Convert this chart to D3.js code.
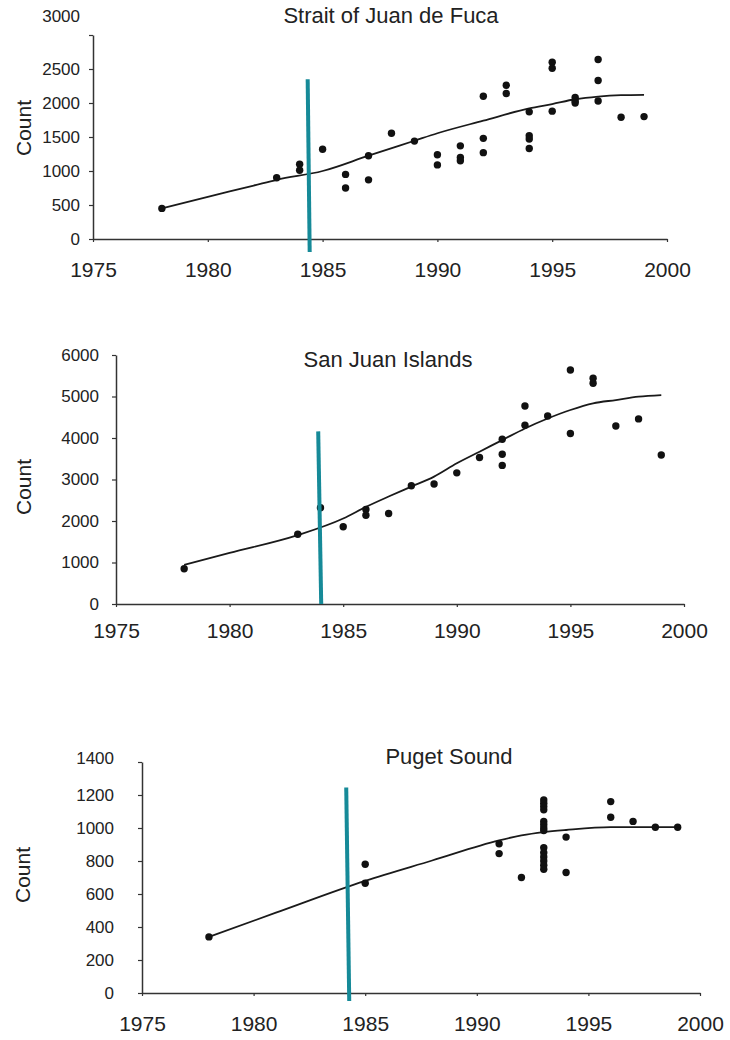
<!DOCTYPE html>
<html>
<head>
<meta charset="utf-8">
<script src="https://cdn.jsdelivr.net/npm/d3@7"></script>
<style>
  body { margin: 0; background: #fff; }
  svg { display: block; font-family: "Liberation Sans", Arial, sans-serif; }
  .domain { stroke: #333; stroke-width: 1.5; }
  .tick line { stroke: #333; stroke-width: 1.2; }
  .tick text { fill: #222; }
</style>
</head>
<body>
<svg id="chart" width="730" height="1040"></svg>
<script>
// shared x ticks
const yearTicks = [1975, 1980, 1985, 1990, 1995, 2000];

// Strait of Juan de Fuca
const fucaTicks = [0, 500, 1000, 1500, 2000, 2500, 3000];
const fucaYears = [1978, 1983, 1984, 1984, 1985, 1986, 1986, 1987, 1987, 1988, 1989,
  1990, 1990, 1991, 1991, 1991, 1992, 1992, 1992, 1993, 1993,
  1994, 1994, 1994, 1994, 1995, 1995, 1995, 1996, 1996, 1996,
  1997, 1997, 1997, 1998, 1999];
const fucaCounts = [450, 900, 1100, 1010, 1320, 950, 750, 1225, 870, 1555, 1440,
  1240, 1090, 1370, 1200, 1150, 2100, 1480, 1270, 2260, 2140,
  1870, 1520, 1470, 1330, 2600, 2510, 1880, 2080, 2030, 2000,
  2640, 2330, 2030, 1790, 1800];
const fucaFitYears = [1978, 1980, 1982, 1983, 1985, 1987, 1989, 1990, 1992, 1994, 1995, 1996, 1997, 1998, 1999];
const fucaFitCounts = [450, 620, 785, 870, 1000, 1225, 1445, 1555, 1740, 1920, 1985, 2055, 2095, 2115, 2120];

// San Juan Islands
const sanJuanTicks = [0, 1000, 2000, 3000, 4000, 5000, 6000];
const sanJuanYears = [1978, 1983, 1984, 1985, 1986, 1986, 1987, 1988, 1989, 1990, 1991,
  1992, 1992, 1992, 1993, 1993, 1994, 1995, 1995, 1996, 1996, 1997, 1998, 1999];
const sanJuanCounts = [850, 1680, 2320, 1860, 2280, 2140, 2180, 2850, 2890, 3160, 3530,
  3970, 3610, 3340, 4770, 4310, 4530, 5640, 4110, 5440, 5320, 4290, 4460, 3590];
const sanJuanFitYears = [1978, 1980, 1983, 1985, 1986, 1987, 1988, 1989, 1990, 1991, 1992, 1993, 1994, 1995, 1996, 1997, 1998, 1999];
const sanJuanFitCounts = [940, 1230, 1660, 2060, 2340, 2590, 2830, 3070, 3390, 3670, 3950, 4230, 4470, 4675, 4835, 4915, 4995, 5035];

// Puget Sound
const pugetTicks = [0, 200, 400, 600, 800, 1000, 1200, 1400];
const pugetYears = [1978, 1985, 1985, 1991, 1991, 1992,
  1993, 1993, 1993, 1993, 1993, 1993, 1993, 1993, 1993, 1993, 1993, 1993, 1993, 1993,
  1994, 1994, 1996, 1996, 1997, 1998, 1999];
const pugetCounts = [340, 780, 665, 905, 845, 700,
  1170, 1150, 1130, 1110, 1040, 1020, 1000, 985, 880, 850, 825, 800, 775, 750,
  945, 730, 1160, 1065, 1040, 1005, 1005];
const pugetFitYears = [1978, 1981, 1985, 1988, 1991, 1992, 1993, 1994, 1996, 1999];
const pugetFitCounts = [340, 487, 680, 803, 925, 955, 975, 988, 1005, 1005];

// teal marker lines (year, top count) per panel
const markerYears = [1984.35, 1983.9, 1984.15];
const markerTops = [2350, 4160, 1245];

const titles = ["Strait of Juan de Fuca", "San Juan Islands", "Puget Sound"];

const svg = d3.select("#chart");

function drawPanel(cfg) {
  const x = d3.scaleLinear().domain([1975, 2000]).range([cfg.x0, cfg.x1]);
  const y = d3.scaleLinear().domain([0, d3.max(cfg.ticks)]).range([cfg.y0, cfg.y1]);
  const g = svg.append("g");

  // y axis
  const yAxis = g.append("g")
    .attr("transform", `translate(${cfg.x0},0)`)
    .call(d3.axisLeft(y).tickValues(cfg.ticks).tickFormat(d3.format("d"))
      .tickSize(4).tickSizeOuter(0).tickPadding(cfg.yPad));
  yAxis.selectAll(".tick text").style("font-size", "17px");
  yAxis.selectAll(".tick text").filter(d => d === d3.max(cfg.ticks)).attr("dy", cfg.topShift);

  // x axis
  const xAxis = g.append("g")
    .attr("transform", `translate(0,${cfg.y0})`)
    .call(d3.axisBottom(x).tickValues(yearTicks).tickFormat(d3.format("d"))
      .tickSize(3).tickSizeOuter(0).tickPadding(cfg.xPad));
  xAxis.selectAll(".tick text").style("font-size", "21px");

  // title
  g.append("text")
    .attr("x", cfg.titleX)
    .attr("y", cfg.titleY)
    .attr("text-anchor", "middle")
    .attr("fill", "#222")
    .style("font-size", "22px")
    .text(cfg.title);

  // Count label
  g.append("text")
    .attr("transform", `translate(${cfg.countX},${cfg.countY}) rotate(-90)`)
    .attr("text-anchor", "middle")
    .attr("dy", "0.35em")
    .attr("fill", "#222")
    .style("font-size", "21px")
    .text("Count");

  // fitted curve
  const fit = cfg.fitYears.map((yr, i) => [yr, cfg.fitCounts[i]]);
  g.append("path")
    .datum(fit)
    .attr("fill", "none")
    .attr("stroke", "#1a1a1a")
    .attr("stroke-width", 1.8)
    .attr("d", d3.line().x(d => x(d[0])).y(d => y(d[1])).curve(d3.curveMonotoneX));

  // points
  const pts = cfg.years.map((yr, i) => [yr, cfg.counts[i]]);
  g.selectAll("circle.pt")
    .data(pts)
    .enter()
    .append("circle")
    .attr("class", "pt")
    .attr("cx", d => x(d[0]))
    .attr("cy", d => y(d[1]))
    .attr("r", 3.7)
    .attr("fill", "#111");

  // teal marker
  g.append("line")
    .attr("x1", x(cfg.markerYear))
    .attr("y1", y(cfg.markerTop))
    .attr("x2", x(cfg.markerYear) + cfg.tilt)
    .attr("y2", cfg.y0 + cfg.below)
    .attr("stroke", "#168a98")
    .attr("stroke-width", 4);
}

drawPanel({
  title: titles[0], ticks: fucaTicks, years: fucaYears, counts: fucaCounts,
  fitYears: fucaFitYears, fitCounts: fucaFitCounts,
  markerYear: markerYears[0], markerTop: markerTops[0],
  x0: 93, x1: 667, y0: 239, y1: 35, yPad: 9, xPad: 20, topShift: -14,
  titleX: 391, titleY: 23, countX: 24, countY: 128, tilt: 2, below: 13
});

drawPanel({
  title: titles[1], ticks: sanJuanTicks, years: sanJuanYears, counts: sanJuanCounts,
  fitYears: sanJuanFitYears, fitCounts: sanJuanFitCounts,
  markerYear: markerYears[1], markerTop: markerTops[1],
  x0: 116, x1: 684, y0: 604, y1: 355, yPad: 13, xPad: 16, topShift: "0.32em",
  titleX: 388, titleY: 367, countX: 24, countY: 487, tilt: 3, below: 0
});

drawPanel({
  title: titles[2], ticks: pugetTicks, years: pugetYears, counts: pugetCounts,
  fitYears: pugetFitYears, fitCounts: pugetFitCounts,
  markerYear: markerYears[2], markerTop: markerTops[2],
  x0: 142, x1: 700, y0: 993, y1: 762, yPad: 24, xPad: 20, topShift: "0.1em",
  titleX: 449, titleY: 764, countX: 23, countY: 875, tilt: 3, below: 8
});
</script>
</body>
</html>
